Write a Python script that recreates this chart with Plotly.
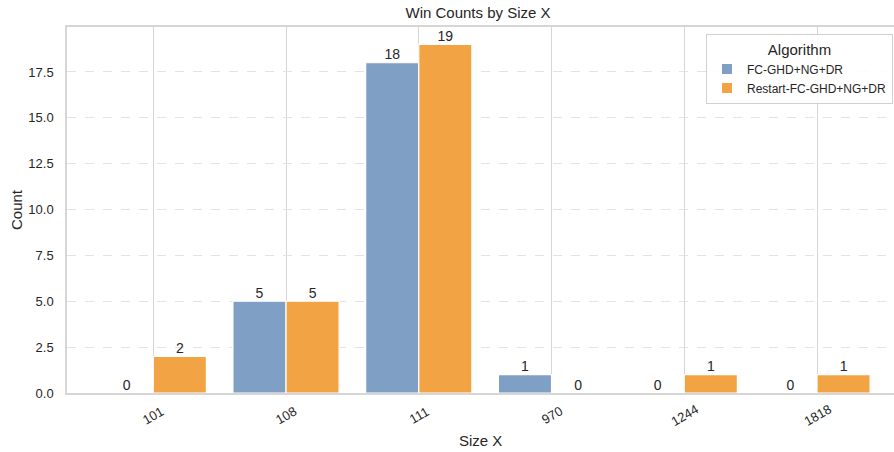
import plotly.graph_objects as go

categories = ["101", "108", "111", "970", "1244", "1818"]
series_names = ["FC-GHD+NG+DR", "Restart-FC-GHD+NG+DR"]
fc_counts = [0, 5, 18, 1, 0, 0]
restart_counts = [2, 5, 19, 0, 1, 1]
y_ticks = [0, 2.5, 5, 7.5, 10, 12.5, 15, 17.5]

colors = ["#7f9fc5", "#f2a445"]
text_color = "#262626"
font_family = "Liberation Sans, Arial, sans-serif"

positions = list(range(len(categories)))

fig = go.Figure()
for name, vals, col, off in [(series_names[0], fc_counts, colors[0], -0.2),
                             (series_names[1], restart_counts, colors[1], 0.2)]:
    fig.add_trace(go.Bar(
        x=positions, y=vals, name=name, marker_color=col,
        marker_line_color="white", marker_line_width=1.2,
        width=0.4, offset=off - 0.2,
    ))
    fig.add_trace(go.Scatter(
        x=[p + off for p in positions], y=vals, mode="text",
        text=[str(v) for v in vals], textposition="top center",
        textfont=dict(size=14, color=text_color, family=font_family),
        showlegend=False, hoverinfo="skip", cliponaxis=False,
    ))

# rotated category labels, centred under each tick (like matplotlib)
for p, lab in zip(positions, categories):
    fig.add_annotation(
        x=p, xref="x", y=-22 / 366, yref="paper", text=lab, showarrow=False,
        textangle=-30, xanchor="center", yanchor="middle",
        font=dict(size=13, color=text_color, family=font_family),
    )

fig.update_layout(
    width=894, height=452,
    margin=dict(l=67, r=0, t=27, b=59, autoexpand=False),
    plot_bgcolor="white", paper_bgcolor="white",
    font=dict(family=font_family, color=text_color, size=12),
    title=dict(text="Win Counts by Size X", x=478 / 894, xref="container",
               xanchor="center", yref="container", y=1 - 13 / 452, yanchor="middle",
               font=dict(size=15, color=text_color)),
    barmode="overlay",
    legend=dict(
        title=dict(text="Algorithm", side="top center", font=dict(size=15, color=text_color)),
        x=(706 - 67) / 827, xanchor="left", y=(393 - 34) / 366, yanchor="top",
        bordercolor="#d0d0d0", borderwidth=1, bgcolor="rgba(255,255,255,0.85)",
        font=dict(size=12, color=text_color),
        itemsizing="constant", tracegroupgap=0,
    ),
)
fig.update_xaxes(
    range=[-0.65, 5.58], tickmode="array", tickvals=positions, ticktext=[""] * len(positions),
    showticklabels=False,
    showgrid=True, gridcolor="#d6d6d6", gridwidth=1,
    showline=True, linecolor="#d6d6d6", linewidth=1.5, mirror=True,
    zeroline=False, ticks="", automargin=False,
)
fig.update_yaxes(
    range=[0, 19.95], tickmode="array", tickvals=y_ticks,
    ticktext=[f"{v:.1f}" for v in y_ticks], tickfont=dict(size=13, color=text_color),
    ticks="outside", ticklen=9, tickcolor="rgba(0,0,0,0)",
    showgrid=True, gridcolor="#e3e3e3", gridwidth=1, griddash="dash",
    showline=True, linecolor="#d6d6d6", linewidth=1.5,
    zeroline=False, automargin=False,
)
# axis titles placed explicitly
fig.add_annotation(
    x=0.5, xref="paper", y=-47 / 366, yref="paper", text="Size X", showarrow=False,
    xanchor="center", yanchor="middle", font=dict(size=15, color=text_color, family=font_family),
)
fig.add_annotation(
    x=(16 - 67) / 827, xref="paper", y=0.5, yref="paper", text="Count", showarrow=False,
    textangle=-90, xanchor="center", yanchor="middle",
    font=dict(size=15, color=text_color, family=font_family),
)

fig.write_html("out.html", config={"displayModeBar": False},
               post_script="document.body.style.margin='0';document.body.style.padding='0';")
